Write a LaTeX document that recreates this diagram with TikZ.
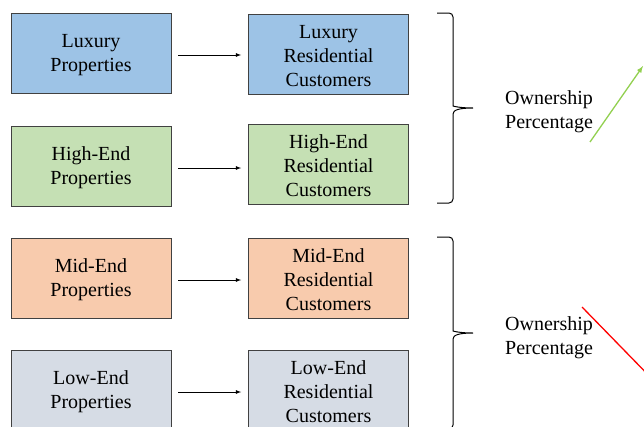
\documentclass[tikz,border=0pt]{standalone}
\usepackage{fontspec}
\setmainfont{Liberation Serif}
\newfontfamily\tnr{Liberation Serif}
\usetikzlibrary{positioning}
\definecolor{lux}{RGB}{157,195,230}
\definecolor{high}{RGB}{197,224,180}
\definecolor{mid}{RGB}{248,203,173}
\definecolor{low}{RGB}{214,220,229}
\definecolor{edge}{RGB}{65,65,65}
\definecolor{upgreen}{RGB}{146,208,80}
\tikzset{
  cat/.style={draw=edge, line width=0.8pt, minimum width=160pt, minimum height=80pt,
    align=center, inner sep=0pt, font=\tnr\fontsize{20}{24}\selectfont},
  own/.style={align=left, inner sep=0pt, font=\tnr\fontsize{20}{24}\selectfont},
  brc/.style={line width=1pt, rounded corners=4pt}
}
\begin{document}
\begin{tikzpicture}[x=1pt,y=-1pt]
\useasboundingbox (0,0) rectangle (644,426);
\clip (0,0) rectangle (644,426);
% property groups
\node[cat, fill=lux] (luxp) at (91,53) {\strut Luxury\\Properties};
\node[cat, fill=high] (highp) at (91,166) {\strut High-End\\Properties};
\node[cat, fill=mid] (midp) at (91,278) {\strut Mid-End\\Properties};
\node[cat, fill=low] (lowp) at (91,390) {\strut Low-End\\Properties};
% customer groups
\node[cat, fill=lux] (luxc) at (328.5,54) {\strut Luxury\\Residential\\Customers};
\node[cat, fill=high] (highc) at (328.5,164) {\strut High-End\\Residential\\Customers};
\node[cat, fill=mid] (midc) at (328.5,278) {\strut Mid-End\\Residential\\Customers};
\node[cat, fill=low] (lowc) at (328.5,390) {\strut Low-End\\Residential\\Customers};

\foreach \a/\b in {luxp/luxc, highp/highc, midp/midc, lowp/lowc}
  \draw[-latex, line width=0.8pt, shorten <=7pt, shorten >=7pt] ([yshift=-2pt]\a.east) -- ([yshift=-2pt]\a.east -| \b.west);

% braces
\draw[brc] (437,13) -- (453,13) -- (453,102)
  [rounded corners=0pt] .. controls (453,106) and (459,108) .. (473,108)
  .. controls (459,108) and (453,110) .. (453,114)
  [rounded corners=4pt] -- (453,203) -- (437,203);
\draw[brc] (437,237) -- (453,237) -- (453,327)
  [rounded corners=0pt] .. controls (453,331) and (459,333) .. (473,333)
  .. controls (459,333) and (453,335) .. (453,339)
  [rounded corners=4pt] -- (453,429) -- (437,429);

\node[own, anchor=west] (up) at (505,110) {\strut Ownership\\Percentage};
\node[own, anchor=west] (down) at (505,336) {\strut Ownership\\Percentage};

% trends
\coordinate (g1) at (590,142);
\coordinate (g2) at (643,66);
\coordinate (r1) at (582,307);
\coordinate (r2) at (660,387);
\draw[-latex, upgreen, line width=1.3pt] (g1) -- (g2);
\draw[-latex, red, line width=1.3pt] (r1) -- (r2);
\end{tikzpicture}
\end{document}
